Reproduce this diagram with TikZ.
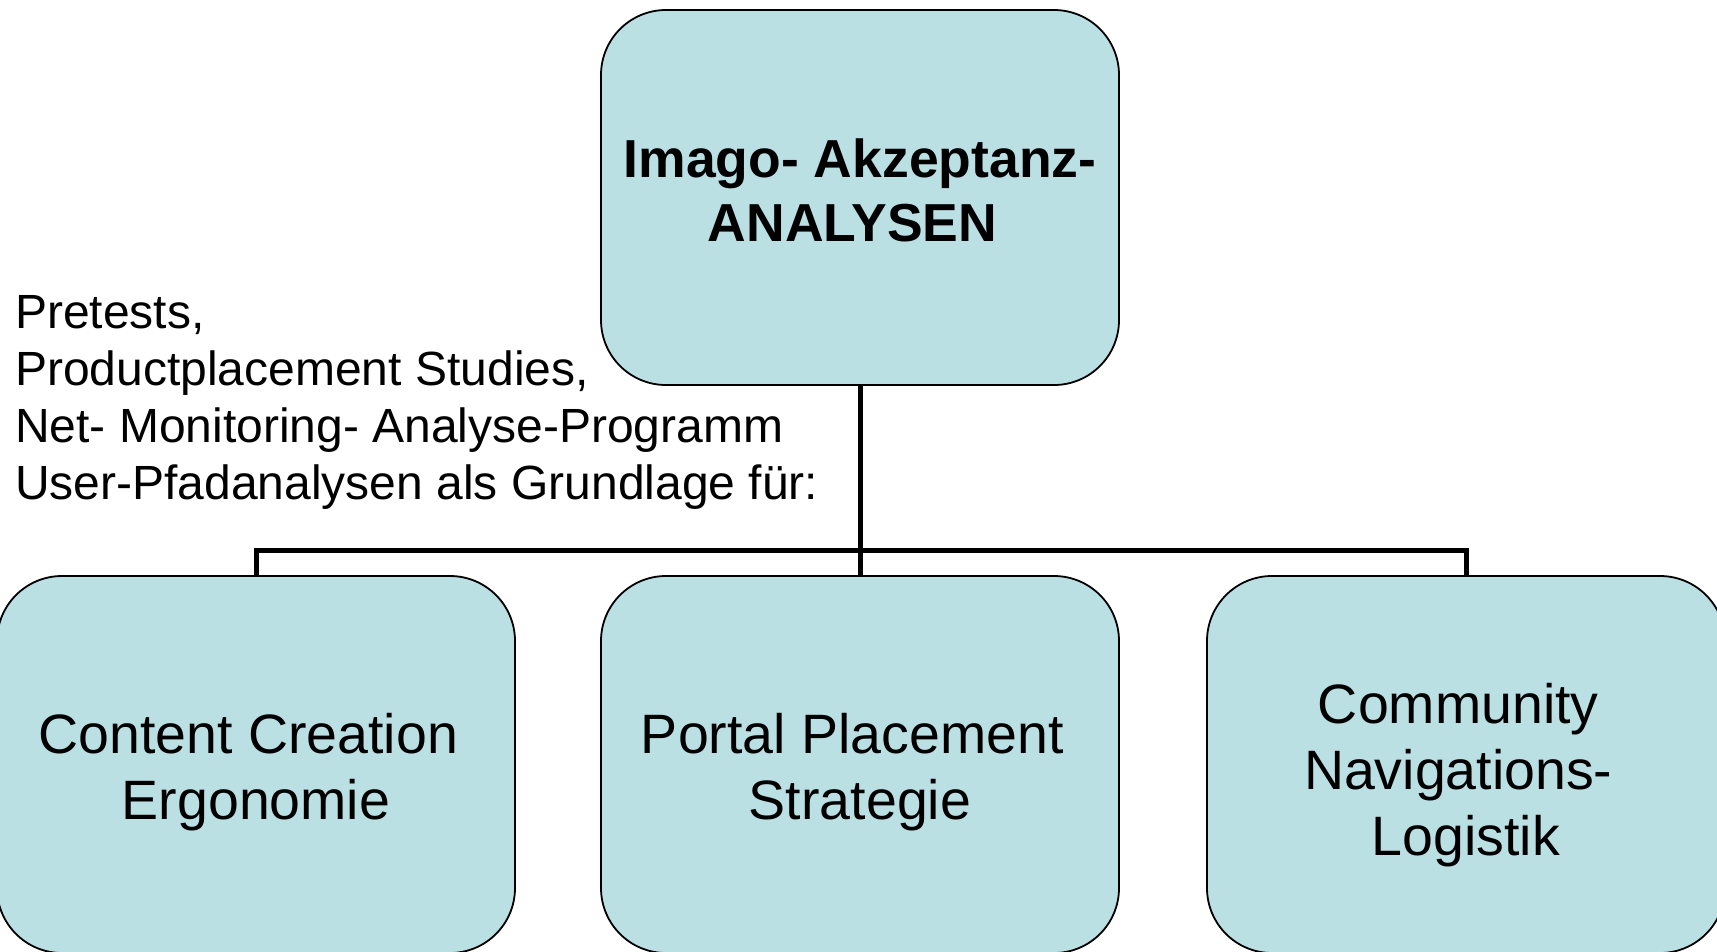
\documentclass[tikz,border=0pt]{standalone}
\usepackage{fontspec}
\setmainfont{Liberation Sans}
\usetikzlibrary{calc}
\definecolor{boxfill}{RGB}{187,224,228}
\newcommand\myH[1]{\rule{0pt}{#1pt}}
\newcommand\myD[1]{\rule[-#1pt]{0pt}{#1pt}}
\newcommand\trsp{\rule{0.278em}{0pt}}
\begin{document}
\begin{tikzpicture}[x=1pt,y=-1pt,
  box/.style={draw=black, line width=1.8pt, fill=boxfill, rounded corners=65pt,
    minimum width=518pt, inner sep=0pt, align=center},
  bigtxt/.style={font=\fontsize{55.5pt}{66pt}\selectfont},
  toptxt/.style={font=\bfseries\fontsize{53.5pt}{64pt}\selectfont},
  desctxt/.style={font=\fontsize{48pt}{57pt}\selectfont, align=left, inner sep=0pt},
  conn/.style={line width=5pt, draw=black}]
\useasboundingbox (0,0) rectangle (1717,951);
\clip (0,0) rectangle (1717,951);
\fill[white] (0,0) rectangle (1717,951);

\node[box, toptxt, minimum height=375pt] (top) at (860,197.5)
  {\myH{40}Imago- Akzeptanz-\\ANALYSEN\trsp\myD{17}};

\node[box, bigtxt, minimum height=377pt] (l) at (256,764.5)
  {\myH{56}Content Creation\trsp\\Ergonomie\myD{13}};
\node[box, bigtxt, minimum height=377pt] (m) at (860,764.5)
  {\myH{56}Portal Placement\trsp\\Strategie\myD{13}};
\node[box, bigtxt, minimum height=377pt] (r) at (1466,764.5)
  {\myH{62}Community\trsp\\Navigations-\trsp\\Logistik\myD{13}};

\node[desctxt, anchor=north west] (desc) at (15,283.6)
  {\myH{45}Pretests,\\Productplacement Studies,\\Net- Monitoring- Analyse-Programm\\User-Pfadanalysen als Grundlage für:};

\coordinate (bus) at (860,550);
\draw[conn] (top.south) -- (bus);
\draw[conn] (l.north) |- (bus) -| (r.north);
\draw[conn] (bus) -- (m.north);
\end{tikzpicture}
\end{document}
